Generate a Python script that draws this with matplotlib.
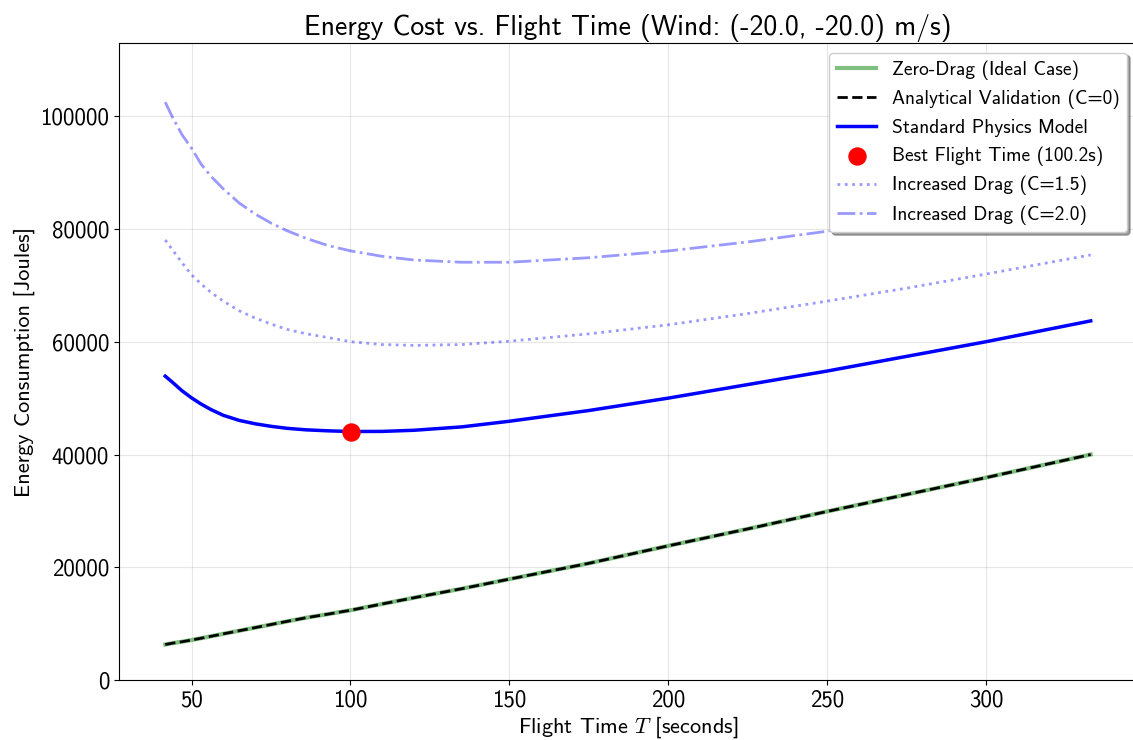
import matplotlib

matplotlib.use("Agg")
import matplotlib.pyplot as plt

plt.rcParams["font.family"] = "cmss10"
plt.rcParams["mathtext.fontset"] = "cm"
plt.rcParams["axes.unicode_minus"] = False
plt.rcParams["axes.formatter.use_mathtext"] = False

# flight times sampled along the curves [s]
T = [41.7, 44, 47, 50, 53, 56, 60, 65, 70, 75, 80, 86, 93, 100.2,
     110, 120, 135, 150, 175, 200, 225, 250, 275, 300, 333]

# energy [J]
zero_drag = [6300, 6550, 6800, 7100, 7420, 7750, 8200, 8750, 9300, 9850, 10400,
             11050, 11700, 12400, 13500, 14600, 16200, 17900, 20700, 23800,
             26800, 29900, 32900, 35900, 40000]
standard = [53900, 52800, 51300, 50040, 48950, 48000, 46950, 46050, 45450, 45000,
            44650, 44380, 44200, 44080, 44100, 44300, 44900, 45900, 47800, 50000,
            52400, 54800, 57400, 60000, 63700]
drag_15 = [78050, 76280, 74000, 71860, 70250, 68800, 67200, 65490, 64200, 63150,
           62200, 61420, 60740, 60000, 59500, 59350, 59500, 60100, 61400, 63000,
           65000, 67200, 69500, 72000, 75400]
drag_20 = [102500, 99800, 96700, 94300, 91500, 89400, 87100, 84600, 82650, 81050,
           79700, 78350, 77050, 76100, 75150, 74500, 74100, 74100, 74900, 76100,
           77700, 79600, 82000, 84700, 88500]

best_T = 100.2
best_E = 44080
wind = (-20.0, -20.0)

fig = plt.figure(figsize=(11.33, 7.4), dpi=100)
# right spine sits just past the picture edge, as in the cropped original
ax = fig.add_axes([0.105, 0.081, 0.8985, 0.861])

ax.plot(T, zero_drag, color="green", alpha=0.5, linewidth=3, label="Zero-Drag (Ideal Case)")
ax.plot(T, zero_drag, color="black", linestyle="--", linewidth=2,
        label="Analytical Validation (C=0)")
ax.plot(T, standard, color="blue", linewidth=2.5, label="Standard Physics Model")
ax.scatter([best_T], [best_E], color="red", s=150, zorder=5,
           label=f"Best Flight Time ({best_T:.1f}s)")
ax.plot(T, drag_15, color="blue", alpha=0.4, linestyle=":", linewidth=2,
        label="Increased Drag (C=1.5)")
ax.plot(T, drag_20, color="blue", alpha=0.4, linestyle="-.", linewidth=2,
        label="Increased Drag (C=2.0)")

ax.set_ylim(0, 113000)
ax.set_title(f"Energy Cost vs. Flight Time (Wind: ({wind[0]:.1f}, {wind[1]:.1f}) m/s)",
             fontsize=20)
ax.set_xlabel("Flight Time $T$ [seconds]", fontsize=16, labelpad=2)
ax.set_ylabel("Energy Consumption [Joules]", fontsize=16)
ax.tick_params(labelsize=16.5)
ax.grid(True, alpha=0.3)
ax.legend(loc="upper right", fontsize=14, shadow=True, framealpha=1)

fig.savefig("out.png", dpi=100)
